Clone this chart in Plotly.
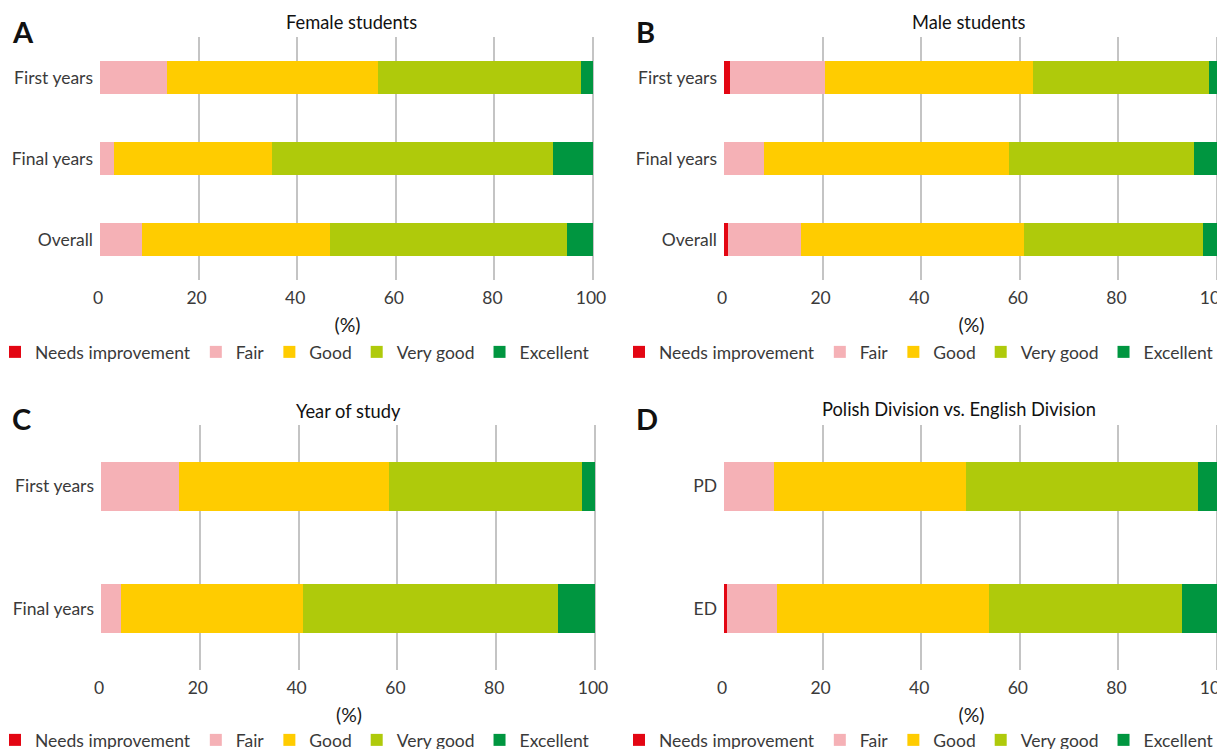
import plotly.graph_objects as go

# ---- data ----
levels = ["Needs improvement", "Fair", "Good", "Very good", "Excellent"]
level_colors = ["#e30613", "#f5b1b6", "#ffcc00", "#afca0b", "#009640"]

rows_sex = ["First years", "Final years", "Overall"]
rows_year = ["First years", "Final years"]
rows_div = ["PD", "ED"]

female_needs = [0.0, 0.0, 0.0]
female_fair = [13.6, 2.8, 8.5]
female_good = [42.8, 32.1, 38.1]
female_verygood = [41.1, 56.9, 48.2]
female_excellent = [2.5, 8.2, 5.2]

male_needs = [1.2, 0.0, 0.8]
male_fair = [19.2, 8.2, 14.8]
male_good = [42.2, 49.7, 45.2]
male_verygood = [35.7, 37.5, 36.4]
male_excellent = [1.7, 4.6, 2.8]

year_needs = [0.0, 0.0]
year_fair = [15.7, 4.0]
year_good = [42.5, 36.9]
year_verygood = [39.2, 51.7]
year_excellent = [2.6, 7.4]

div_needs = [0.0, 0.6]
div_fair = [10.2, 10.2]
div_good = [38.8, 42.9]
div_verygood = [47.2, 39.3]
div_excellent = [3.8, 7.0]

panel_titles = ["Female students", "Male students", "Year of study",
                "Polish Division vs. English Division"]
panel_letters = ["A", "B", "C", "D"]
tick_vals = [0, 20, 40, 60, 80, 100]

# ---- figure ----
W, H = 1225, 749
OFF = 8  # page body margin offset
FONT = "Lato"
TXT = "#3a3a3a"
FS = 17.5
XMAX = 100.4

panels = [
    ("x", "y", "legend", rows_sex,
     [female_needs, female_fair, female_good, female_verygood, female_excellent]),
    ("x2", "y2", "legend2", rows_sex,
     [male_needs, male_fair, male_good, male_verygood, male_excellent]),
    ("x3", "y3", "legend3", rows_year,
     [year_needs, year_fair, year_good, year_verygood, year_excellent]),
    ("x4", "y4", "legend4", rows_div,
     [div_needs, div_fair, div_good, div_verygood, div_excellent]),
]

fig = go.Figure()
for xa, ya, lg, rows, series in panels:
    for name, color, vals in zip(levels, level_colors, series):
        fig.add_trace(go.Bar(
            x=vals, y=rows, orientation="h", name=name,
            marker=dict(color=color, line=dict(width=0)),
            width=0.4, xaxis=xa, yaxis=ya, legend=lg,
        ))

# page-pixel boxes: x of value 0, x of value 100, top, bottom
boxes = [(100, 593, 37, 280), (724, 1217, 37, 280),
         (101, 595, 425, 670), (724, 1217, 425, 670)]


def px(x):
    return (x - OFF) / W


def py(y):
    return 1 - (y - OFF) / H


layout = dict(
    width=W, height=H,
    margin=dict(l=0, r=0, t=0, b=0, autoexpand=False),
    paper_bgcolor="white", plot_bgcolor="white",
    barmode="stack",
    font=dict(family=FONT, size=FS, color=TXT),
    showlegend=True,
)

axis_names = [("xaxis", "yaxis"), ("xaxis2", "yaxis2"),
              ("xaxis3", "yaxis3"), ("xaxis4", "yaxis4")]
legend_names = ["legend", "legend2", "legend3", "legend4"]
for i, ((xk, yk), (l, r, t, b)) in enumerate(zip(axis_names, boxes)):
    yref = "y" if i == 0 else f"y{i+1}"
    xref = "x" if i == 0 else f"x{i+1}"
    r_ext = l + (r - l) * XMAX / 100
    layout[xk] = dict(
        domain=[px(l), min(px(r_ext), 1.0)], anchor=yref, range=[0, XMAX], automargin=False,
        tickvals=tick_vals, showgrid=True, gridcolor="#c4c4c4", gridwidth=1.5,
        zeroline=False, showline=False, ticks="",
        ticklabelstandoff=5, ticklabelshift=-2, ticklabeloverflow="allow",
        tickfont=dict(size=FS, color=TXT),
        title=dict(text="(%)", font=dict(size=19.5, color="#1a1a1a"), standoff=11),
    )
    layout[yk] = dict(
        domain=[py(b), py(t)], anchor=xref, autorange="reversed", automargin=False,
        showgrid=False, zeroline=False, showline=False, ticks="",
        ticklabelstandoff=6,
        tickfont=dict(size=FS, color=TXT),
    )
    legend_y = py(352 if i < 2 else 740)
    legend_x = px(-5 if i % 2 == 0 else 619)
    layout[legend_names[i]] = dict(
        orientation="h", x=legend_x, xanchor="left", y=legend_y, yanchor="middle",
        font=dict(size=FS, color=TXT), bgcolor="rgba(0,0,0,0)",
        itemwidth=30, traceorder="normal",
    )

fig.update_layout(**layout)

title_pos = [(351, 22), (969, 22), (348, 411), (959, 409)]
letter_pos = [(10, 31), (634, 31), (10, 418), (634, 418)]
for txt, (x0, y0) in zip(panel_titles, title_pos):
    fig.add_annotation(text=txt, x=px(x0), y=py(y0), xref="paper", yref="paper",
                       showarrow=False, xanchor="center", yanchor="middle",
                       font=dict(size=18.3, color="#111", family=FONT))
for txt, (x0, y0) in zip(panel_letters, letter_pos):
    fig.add_annotation(text=f"<b>{txt}</b>", x=px(x0), y=py(y0), xref="paper", yref="paper",
                       showarrow=False, xanchor="left", yanchor="middle",
                       font=dict(size=29, color="#111", family=FONT))

fig.write_html("out.html")
